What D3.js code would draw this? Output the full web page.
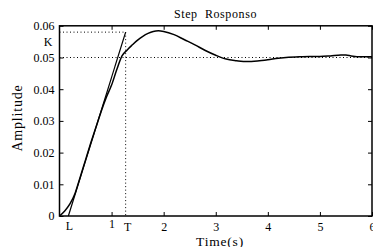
<!DOCTYPE html>
<html><head><meta charset="utf-8">
<script src="https://cdn.jsdelivr.net/npm/d3@7"></script>
<style>body{margin:0;background:#fff}svg{display:block}text{font-family:"Liberation Serif","DejaVu Serif",serif;fill:#000}</style>
</head><body><svg id="c" width="373" height="247"></svg>
<script>
const times = [0,0.1,0.2,0.3,0.4,0.5,0.6,0.7,0.8,0.9,1.0,1.1,1.2,1.3,1.4,1.5,1.6,1.7,1.8,1.9,2.0,2.2,2.4,2.6,2.8,3.0,3.2,3.4,3.6,3.8,4.0,4.2,4.4,4.6,4.8,5.0,5.2,5.4,5.5,5.6,5.8,6.0];
const amplitude = [0,0.0016,0.0038,0.0072,0.0124,0.0177,0.023,0.028,0.033,0.0375,0.0413,0.0462,0.0505,0.0524,0.054,0.0555,0.0567,0.0576,0.0582,0.0584,0.0582,0.0572,0.0556,0.054,0.0522,0.0507,0.0495,0.049,0.0487,0.0489,0.0493,0.0498,0.0501,0.0502,0.0503,0.0503,0.0505,0.0508,0.0508,0.0505,0.0502,0.0502];
const xTicks = [1,2,3,4,5,6];
const xTickLabels = ["1","2","3","4","5","6"];
const yTicks = [0,0.01,0.02,0.03,0.04,0.05,0.06];
const yTickLabels = ["0","0.01","0.02","0.03","0.04","0.05","0.06"];
const L = 0.17, T = 1.27, K = 0.058, steady = 0.05;
const title = "Step  Rosponso", xLabel = "Time(s)", yLabel = "Amplitude";

const svg = d3.select("#c");
const x = d3.scaleLinear().domain([0,6]).range([59.5,372]);
const y = d3.scaleLinear().domain([0,0.06]).range([216,25.8]);

// axes with inward ticks
const gx = svg.append("g").attr("transform",`translate(0,${y(0)})`)
  .call(d3.axisBottom(x).tickValues(xTicks).tickFormat((d,i)=>xTickLabels[i]).tickSize(-4).tickPadding(6));
const gy = svg.append("g").attr("transform",`translate(${x(0)},0)`)
  .call(d3.axisLeft(y).tickValues(yTicks).tickFormat((d,i)=>yTickLabels[i]).tickSize(-4).tickPadding(5));
svg.append("g").attr("transform",`translate(0,${y(0.06)})`)
  .call(d3.axisTop(x).tickValues(xTicks).tickFormat("").tickSize(-4));
svg.append("g").attr("transform",`translate(${x(6)},0)`)
  .call(d3.axisRight(y).tickValues(yTicks).tickFormat("").tickSize(-4));
svg.selectAll(".domain").remove();
svg.selectAll(".tick line").attr("stroke","#000").attr("stroke-width",1);
svg.selectAll(".tick text").style("font-size","12px").style("font-family",'"Liberation Serif",serif');
gx.selectAll(".tick text").attr("y",0).attr("dy",null).attr("transform","translate(0,231)")
  .attr("transform",(d)=>`translate(0,${d===1?12:14.5})`);

// box
svg.append("rect").attr("x",x(0)).attr("y",y(0.06)).attr("width",x(6)-x(0)).attr("height",y(0)-y(0.06))
  .attr("fill","none").attr("stroke","#000").attr("stroke-width",1.5);

// dotted reference lines
const dot = {stroke:"#000","stroke-width":1,"stroke-dasharray":"1,2.5"};
function dl(x1,y1,x2,y2){const l=svg.append("line").attr("x1",x1).attr("y1",y1).attr("x2",x2).attr("y2",y2);for(const k in dot)l.attr(k,dot[k]);}
dl(x(0),y(K),x(T),y(K));
dl(x(0),y(steady),x(6),y(steady));
dl(x(T),y(K),x(T),y(0));

// tangent
svg.append("line").attr("x1",x(L)).attr("y1",y(0)).attr("x2",x(T)).attr("y2",y(K)).attr("stroke","#000").attr("stroke-width",1.2);

// response curve
const pts = times.map((t,i)=>[t,amplitude[i]]);
svg.append("path").datum(pts).attr("fill","none").attr("stroke","#000").attr("stroke-width",1.5)
  .attr("d",d3.line().x(d=>x(d[0])).y(d=>y(d[1])).curve(d3.curveMonotoneX));

// extra labels
svg.append("text").attr("x",x(0)-7).attr("y",y(K)+14).attr("text-anchor","end").style("font-size","12px").text("K");
svg.append("text").attr("x",x(L)+1).attr("y",230).attr("text-anchor","middle").style("font-size","12px").text("L");
svg.append("text").attr("x",x(T)+2).attr("y",231).attr("text-anchor","middle").style("font-size","12px").text("T");

// titles
svg.append("text").attr("x",215.5).attr("y",18).attr("text-anchor","middle").style("font-size","12px").style("letter-spacing","0.6px").style("white-space","pre").text(title);
svg.append("text").attr("x",220).attr("y",245.5).attr("text-anchor","middle").style("font-size","13.5px").style("letter-spacing","0.8px").text(xLabel);
svg.append("text").attr("transform","translate(22,118) rotate(-90)").attr("text-anchor","middle").style("font-size","14px").style("letter-spacing","0.8px").text(yLabel);
</script></body></html>
